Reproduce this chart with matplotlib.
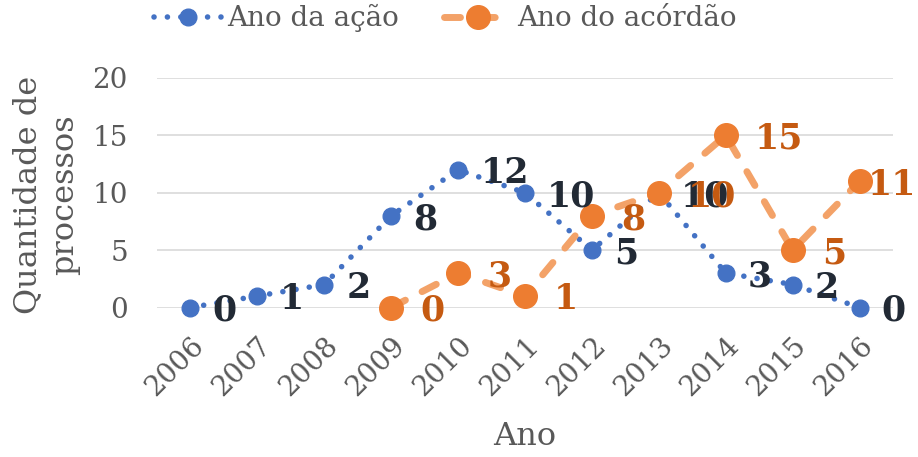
import numpy as np
import matplotlib
matplotlib.use("Agg")
import matplotlib.pyplot as plt

plt.rcParams['font.family'] = ['DejaVu Serif']

anos = ['2006', '2007', '2008', '2009', '2010', '2011', '2012', '2013', '2014', '2015', '2016']
ano_acao = [0, 1, 2, 8, 12, 10, 5, 10, 3, 2, 0]
ano_acordao = [np.nan, np.nan, np.nan, 0, 3, 1, 8, 10, 15, 5, 11]

azul = '#4472c4'
laranja = '#ed7d31'
laranja_linha = '#f3a268'
cinza = '#595959'

fig = plt.figure(figsize=(9.18, 4.57), dpi=100)
ax = fig.add_axes([157 / 918, 1 - 307.5 / 457, 736 / 918, 229.5 / 457])

x = np.arange(len(anos))

ax.plot(x, ano_acao, color=azul, lw=4, dashes=(0.01, 2.4), dash_capstyle='round',
        marker='o', ms=12, mfc=azul, mec=azul, label='Ano da ação', clip_on=False, zorder=3)
ax.plot(x, ano_acordao, color=laranja_linha, lw=5, dashes=(2.3, 2.7), dash_capstyle='round',
        marker='o', ms=17, mfc=laranja, mec=laranja, label='Ano do acórdão', clip_on=False, zorder=4)

# data labels to the right of each point
for xi, v in zip(x, ano_acao):
    ax.annotate(f'{v}', (xi, v), xytext=(16, -2.5), textcoords='offset points',
                ha='left', va='center', fontsize=25, fontweight='bold', color='#222a35',
                annotation_clip=False, zorder=5)
for i, (xi, v) in enumerate(zip(x, ano_acordao)):
    if np.isnan(v):
        continue
    dx = 21 if i < len(x) - 1 else 6  # last label pulled in to stay inside the chart
    ax.annotate(f'{int(v)}', (xi, v), xytext=(dx, -2.5), textcoords='offset points',
                ha='left', va='center', fontsize=25, fontweight='bold', color='#c55a11',
                annotation_clip=False, zorder=6)

ax.set_xlim(-0.5, len(anos) - 0.5)
ax.set_ylim(0, 20)
ax.set_yticks([0, 5, 10, 15, 20])
ax.set_xticks(x)
ax.set_xticklabels(anos, rotation=45, ha='right', va='top', rotation_mode='anchor')
ax.tick_params(axis='both', length=0, labelsize=20, labelcolor=cinza)
ax.tick_params(axis='y', pad=21)
ax.tick_params(axis='x', pad=18)

ax.grid(axis='y', color='#d9d9d9', lw=1.2)
ax.set_axisbelow(True)
for s in ax.spines.values():
    s.set_visible(False)

ax.set_xlabel('Ano', fontsize=23, color=cinza)
ax.xaxis.set_label_coords(0.5, -0.564)
ax.xaxis.label.set_va('center')
ax.set_ylabel('Quantidade de\nprocessos', fontsize=23, color=cinza, linespacing=1.25)
ax.yaxis.set_label_coords(-0.151, 0.49)
ax.yaxis.label.set_va('center')

leg = fig.legend(loc='center', bbox_to_anchor=(0.485, 0.96), ncol=2, frameon=False,
                 fontsize=20, handlelength=2.5, handletextpad=0.15, columnspacing=1.6)
for t in leg.get_texts():
    t.set_color(cinza)

fig.savefig('out.png', dpi=100)
